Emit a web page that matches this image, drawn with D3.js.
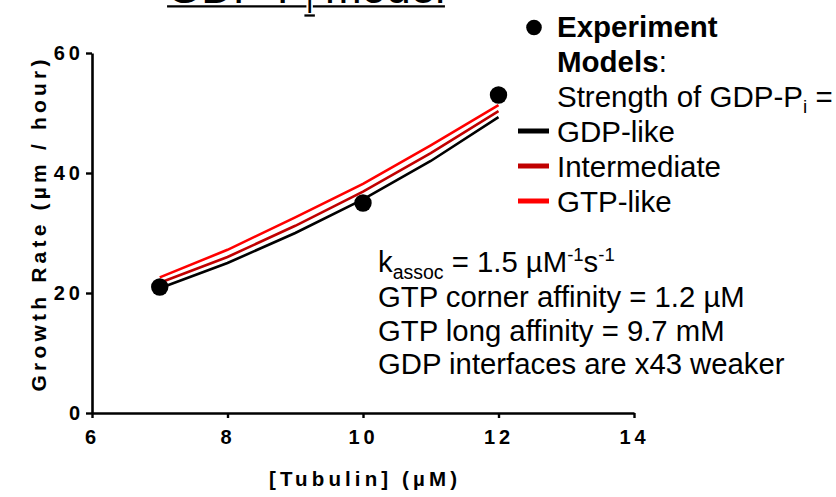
<!DOCTYPE html>
<html>
<head>
<meta charset="utf-8">
<script src="https://cdn.jsdelivr.net/npm/d3@7"></script>
<style>
  html, body { margin: 0; padding: 0; background: #fff; }
  svg { display: block; font-family: Arial, "Liberation Sans", sans-serif; }
</style>
</head>
<body>
<svg id="chart" width="836" height="497"></svg>
<script>
// Measured growth rates
const expTubulin = [7, 10, 12];
const expGrowth = [21, 35, 53];

// Model curves (growth rate vs tubulin) for three GDP-Pi strengths
const modelTubulin = [7, 8, 9, 10, 11, 12];
const gdpLike = [20.8, 25.0, 30.0, 35.6, 42.0, 49.3];
const intermediate = [21.7, 26.0, 31.2, 36.9, 43.3, 50.3];
const gtpLike = [22.6, 27.2, 32.6, 38.2, 44.6, 51.3];

const xTicks = [6, 8, 10, 12, 14];
const yTicks = [0, 20, 40, 60];

const modelSeries = [
  { name: "GDP-like", values: gdpLike, color: "#000000" },
  { name: "Intermediate", values: intermediate, color: "#c00000" },
  { name: "GTP-like", values: gtpLike, color: "#ff0000" }
];

const svg = d3.select("#chart");

const x = d3.scaleLinear().domain([6, 14]).range([92, 634]);
const y = d3.scaleLinear().domain([0, 60]).range([413, 53]);

// Title (mostly above the visible area)
const title = svg.append("text")
  .attr("x", 306).attr("y", 2.5)
  .attr("text-anchor", "middle")
  .style("font-size", "44px");
title.append("tspan").text("GDP-P");
title.append("tspan").attr("dy", 10).style("font-size", "29px").text("i");
title.append("tspan").attr("dy", -10).text(" model");
{
  const n = title.node();
  const bb = n.getBBox();
  const iStart = n.getStartPositionOfChar(5).x;
  const iEnd = n.getEndPositionOfChar(5).x;
  const ul = svg.append("g").attr("stroke", "#000").attr("stroke-width", 2.3);
  ul.append("line").attr("x1", bb.x).attr("x2", iStart).attr("y1", 6.3).attr("y2", 6.3);
  ul.append("line").attr("x1", iEnd).attr("x2", bb.x + bb.width).attr("y1", 6.3).attr("y2", 6.3);
  ul.append("line").attr("x1", iStart - 2).attr("x2", iEnd + 2).attr("y1", 15.5).attr("y2", 15.5);
}

// Axes
const axisFont = g => g.selectAll("text")
  .style("font-size", "20px").style("font-weight", "bold")
  .style("letter-spacing", "4px").attr("fill", "#000");

const xAxis = svg.append("g")
  .attr("transform", `translate(0,${y(0)})`)
  .call(d3.axisBottom(x).tickValues(xTicks).tickSize(5).tickPadding(12).tickSizeOuter(0));
xAxis.call(axisFont);

const yAxis = svg.append("g")
  .attr("transform", `translate(${x(6)},0)`)
  .call(d3.axisLeft(y).tickValues(yTicks).tickSize(6).tickPadding(2).tickSizeOuter(0));
yAxis.call(axisFont);

svg.selectAll(".domain").attr("stroke", "#000").attr("stroke-width", 2.6);
svg.selectAll(".tick line").attr("stroke", "#000").attr("stroke-width", 2.4);

// Axis titles
svg.append("text")
  .attr("transform", "translate(46,225.5) rotate(-90)")
  .attr("text-anchor", "middle")
  .attr("textLength", 332).attr("lengthAdjust", "spacing")
  .style("font-size", "21px").style("font-weight", "bold")
  .text("Growth Rate (µm / hour)");

svg.append("text")
  .attr("x", 363).attr("y", 486)
  .attr("text-anchor", "middle")
  .attr("textLength", 188).attr("lengthAdjust", "spacing")
  .style("font-size", "20.5px").style("font-weight", "bold")
  .text("[Tubulin] (µM)");

// Model curves
const line = d3.line()
  .x((d, i) => x(modelTubulin[i]))
  .y(d => y(d));

svg.append("g").selectAll("path")
  .data(modelSeries)
  .join("path")
  .attr("d", s => line(s.values))
  .attr("fill", "none")
  .attr("stroke", s => s.color)
  .attr("stroke-width", 2.6);

// Experimental points
svg.append("g").selectAll("circle")
  .data(expTubulin)
  .join("circle")
  .attr("cx", d => x(d))
  .attr("cy", (d, i) => y(expGrowth[i]))
  .attr("r", 8.7)
  .attr("fill", "#000");

// Legend
const legend = svg.append("g").style("font-size", "29.5px");
legend.append("circle").attr("cx", 534).attr("cy", 27.5).attr("r", 7.8).attr("fill", "#000");
legend.append("text").attr("x", 557).attr("y", 37).style("font-weight", "bold").text("Experiment");
const models = legend.append("text").attr("x", 557).attr("y", 72);
models.append("tspan").style("font-weight", "bold").text("Models");
models.append("tspan").text(":");
const strength = legend.append("text").attr("x", 557).attr("y", 107);
strength.append("tspan").text("Strength of GDP-P");
strength.append("tspan").attr("dy", 6).style("font-size", "19px").text("i");
strength.append("tspan").attr("dy", -6).text(" =");

modelSeries.forEach((s, i) => {
  const cy = 131 + i * 35;
  legend.append("line")
    .attr("x1", 518).attr("x2", 549).attr("y1", cy).attr("y2", cy)
    .attr("stroke", s.color).attr("stroke-width", 5);
  legend.append("text").attr("x", 557).attr("y", cy + 10.5).text(s.name);
});

// Model parameters
const notes = svg.append("g").style("font-size", "29.3px");
const k = notes.append("text").attr("x", 378).attr("y", 272);
k.append("tspan").text("k");
k.append("tspan").attr("dy", 7).style("font-size", "19.5px").text("assoc");
k.append("tspan").attr("dy", -7).text(" = 1.5 µM");
k.append("tspan").attr("dy", -11).style("font-size", "18.5px").text("-1");
k.append("tspan").attr("dy", 11).text("s");
k.append("tspan").attr("dy", -11).style("font-size", "18.5px").text("-1");
notes.append("text").attr("x", 378).attr("y", 307).text("GTP corner affinity = 1.2 µM");
notes.append("text").attr("x", 378).attr("y", 341).text("GTP long affinity = 9.7 mM");
notes.append("text").attr("x", 378).attr("y", 374).text("GDP interfaces are x43 weaker");
</script>
</body>
</html>
